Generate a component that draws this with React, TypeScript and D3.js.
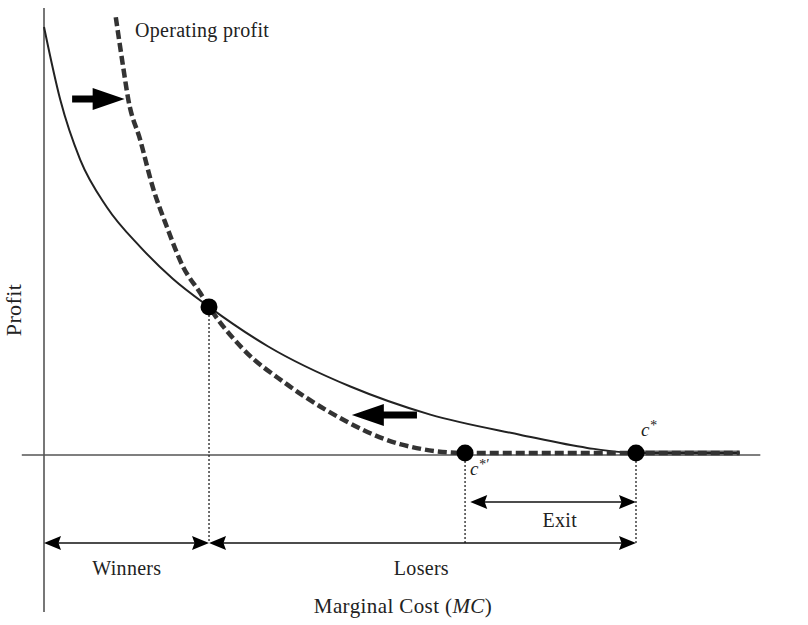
import * as d3 from "d3"

// marginal cost (x) vs profit (y)
const baseCurve: [number, number][] = [
  [0, 100], [2.2, 82.9], [4.9, 68.8], [8.5, 57.7], [13.0, 48.4], [17.4, 40.9],
  [22.3, 34.3], [30.3, 25.0], [41.4, 15.6], [52.2, 9.0], [64.3, 4.3], [73.4, 1.2],
  [80, 0], [94, 0],
]

const operatingCurve: [number, number][] = [
  [9.7, 102.3], [10.7, 90.6], [11.4, 82.9], [13.0, 73.5], [14.7, 62.4], [16.6, 53.1],
  [18.8, 43.7], [21.1, 37.6], [22.3, 34.3], [26.9, 24.4], [32.6, 16.4], [38.6, 9.6],
  [48.1, 2.1], [56.9, 0], [94, 0],
]

const markers = [
  { id: "cross", mc: 22.3, profit: 34.3 },
  { id: "cPrime", mc: 56.9, profit: 0 },
  { id: "cStar", mc: 80, profit: 0 },
]

const shifts = [
  { from: 3.8, to: 10.9, profit: 83.1 },
  { from: 50.4, to: 41.6, profit: 8.9 },
]

const ranges = [
  { label: "Winners", from: 0, to: 22.3, row: 0, labelAt: 11.2 },
  { label: "Losers", from: 22.3, to: 80, row: 0, labelAt: 51 },
  { label: "Exit", from: 57.6, to: 80, row: 1, labelAt: 69.7 },
]

const W = 808
const H = 625
const font = "'Liberation Serif', 'Times New Roman', serif"
const rowY = [543, 502]
const rowLabelY = [575, 527]

export default function App() {
  const x = d3.scaleLinear().domain([0, 100]).range([44, 784])
  const y = d3.scaleLinear().domain([0, 100]).range([453, 27])

  const line = d3
    .line<[number, number]>()
    .x((d) => x(d[0]))
    .y((d) => y(d[1]))
    .curve(d3.curveMonotoneX)

  const flatStart = x(80)
  const flatEnd = x(94)

  // thick block arrow showing the shift of the curve
  const blockArrow = (x0: number, x1: number, yy: number) => {
    const dir = x1 > x0 ? 1 : -1
    const hl = 32
    const hw = 11
    const sw = 3.5
    const bx = x1 - dir * hl
    return [
      [x0, yy - sw], [bx, yy - sw], [bx, yy - hw], [x1, yy],
      [bx, yy + hw], [bx, yy + sw], [x0, yy + sw],
    ].map((p) => p.join(",")).join(" ")
  }

  const head = (tip: number, dir: number, yy: number) => {
    const hl = 17
    const hw = 7
    const b = tip - dir * hl
    const n = tip - dir * hl * 0.85
    return `${tip},${yy} ${b},${yy - hw} ${n},${yy} ${b},${yy + hw}`
  }

  return (
    <svg
      width={W}
      height={H}
      style={{ position: "absolute", left: 0, top: 0, background: "#fff" }}
      fontFamily={font}
    >
      {/* axes */}
      <line x1={x(0)} x2={x(0)} y1={8} y2={612} stroke="#555" strokeWidth={1.6} />
      <line x1={x(-3)} x2={x(96.8)} y1={y(0) + 2} y2={y(0) + 2} stroke="#555" strokeWidth={1.6} />

      {/* dotted guides */}
      {markers.map((m) => (
        <line
          key={"g" + m.id}
          x1={x(m.mc)}
          x2={x(m.mc)}
          y1={y(m.profit)}
          y2={rowY[0]}
          stroke="#222"
          strokeWidth={1.3}
          strokeDasharray="2,2"
        />
      ))}

      {/* curves */}
      <line x1={flatStart} x2={flatEnd} y1={y(0)} y2={y(0)} stroke="#666" strokeWidth={5} />
      <path d={line(baseCurve) || ""} fill="none" stroke="#222" strokeWidth={2} />
      <path
        d={line(operatingCurve) || ""}
        fill="none"
        stroke="#333"
        strokeWidth={4.5}
        strokeDasharray="9,4"
      />

      {/* shift arrows */}
      {shifts.map((s, i) => (
        <polygon key={"s" + i} points={blockArrow(x(s.from), x(s.to), y(s.profit))} fill="#000" />
      ))}

      {/* markers */}
      {markers.map((m) => (
        <circle key={m.id} cx={x(m.mc)} cy={y(m.profit)} r={8.5} fill="#000" />
      ))}

      {/* range arrows */}
      {ranges.map((r) => {
        const yy = rowY[r.row]
        const x0 = x(r.from)
        const x1 = x(r.to)
        return (
          <g key={r.label}>
            <line x1={x0 + 10} x2={x1 - 10} y1={yy} y2={yy} stroke="#111" strokeWidth={1.6} />
            <polygon points={head(x0, -1, yy)} fill="#000" />
            <polygon points={head(x1, 1, yy)} fill="#000" />
            <text
              x={x(r.labelAt)}
              y={rowLabelY[r.row]}
              textAnchor="middle"
              fontSize={20}
              letterSpacing={0.3}
              fill="#222"
            >
              {r.label}
            </text>
          </g>
        )
      })}

      {/* labels */}
      <text x={135} y={37} fontSize={20} letterSpacing={0.3} fill="#222">
        Operating profit
      </text>
      <text x={x(80) + 5} y={436} fontSize={19} fontStyle="italic" fill="#222">
        c<tspan fontSize={14} dy={-6}>*</tspan>
      </text>
      <text x={x(56.9) + 5} y={475} fontSize={19} fontStyle="italic" fill="#222">
        c<tspan fontSize={14} dy={-6}>*′</tspan>
      </text>
      <text x={403} y={613} textAnchor="middle" fontSize={21} letterSpacing={0.4} fill="#222">
        Marginal Cost (<tspan fontStyle="italic">MC</tspan>)
      </text>
      <text
        transform="translate(21,310) rotate(-90)"
        textAnchor="middle"
        fontSize={22}
        letterSpacing={0.4}
        fill="#222"
      >
        Profit
      </text>
    </svg>
  )
}
